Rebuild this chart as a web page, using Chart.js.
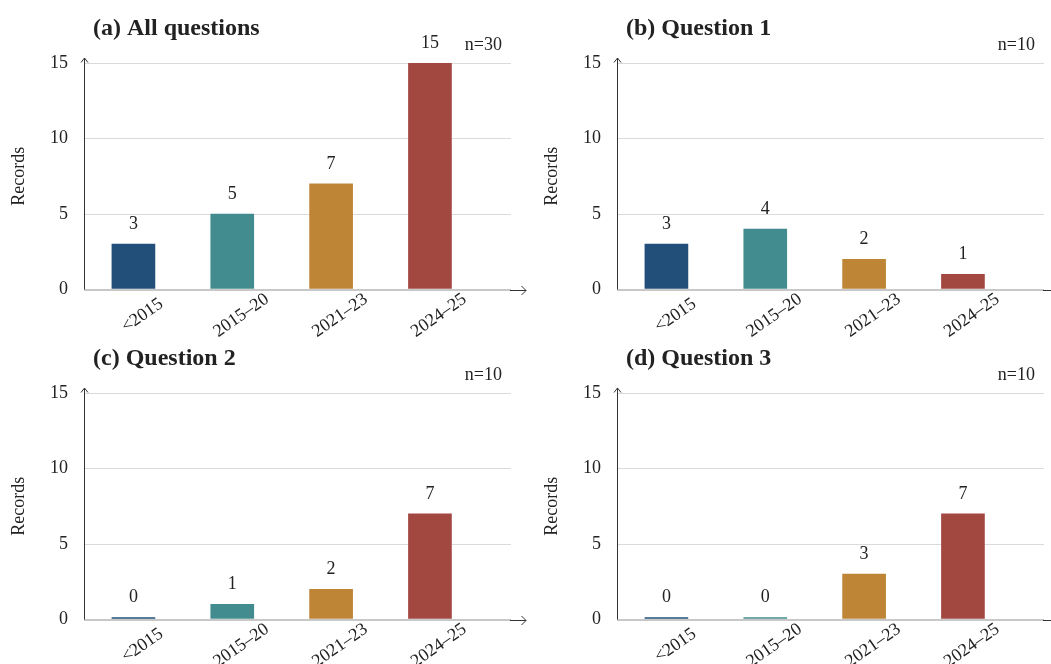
<!DOCTYPE html>
<html>
<head>
<meta charset="utf-8">
<script src="https://cdn.jsdelivr.net/npm/chart.js@4.4.1/dist/chart.umd.min.js"></script>
<style>
  html, body { margin: 0; padding: 0; background: #ffffff; }
  #wrap { position: relative; width: 1051px; height: 664px; overflow: hidden; }
  canvas { position: absolute; }
</style>
</head>
<body>
<div id="wrap">
  <canvas id="pa"></canvas>
  <canvas id="pb"></canvas>
  <canvas id="pc"></canvas>
  <canvas id="pd"></canvas>
</div>
<script>
// Period categories shared by every panel
const categories = ['<2015', '2015–20', '2021–23', '2024–25'];

// Record counts per period
const allQuestions = [3, 5, 7, 15];
const question1 = [3, 4, 2, 1];
const question2 = [0, 1, 2, 7];
const question3 = [0, 0, 3, 7];

// Panel headings and sample sizes
const panelTitles = ['(a) All questions', '(b) Question 1', '(c) Question 2', '(d) Question 3'];
const sampleSizes = [30, 10, 10, 10];

// Y axis ticks
const yTicks = [0, 5, 10, 15];

// One colour per period
const periodColors = ['#214f79', '#428c8f', '#bd8535', '#a24841'];

const SERIF = '"Liberation Serif", "Times New Roman", serif';
const AXIS_LEFT = 84;
const AXIS_RIGHT = 511;
const AXIS_BOTTOM = 289.5;
const AXIS_TOP = 63;

// Titles, n labels, value labels, rotated period labels and axis arrows
const decorPlugin = {
  id: 'decor',
  afterDraw(chart, args, opts) {
    const { ctx, chartArea, scales } = chart;
    const x = scales.x, y = scales.y;
    const y0 = y.getPixelForValue(0);
    const yTop = y.getPixelForValue(yTicks[yTicks.length - 1]);
    ctx.save();

    // y axis with arrow head
    ctx.strokeStyle = '#333';
    ctx.lineWidth = 1;
    const ax = Math.round(chartArea.left) + 0.5;
    ctx.beginPath();
    ctx.moveTo(ax, y0);
    ctx.lineTo(ax, yTop - 5);
    ctx.stroke();
    ctx.beginPath();
    ctx.moveTo(ax - 3.5, yTop - 0.5);
    ctx.lineTo(ax, yTop - 5);
    ctx.lineTo(ax + 3.5, yTop - 0.5);
    ctx.stroke();

    // x axis arrow continuing the baseline
    const xr = chartArea.right - 1;
    const ay = Math.round(y0) + 0.5;
    ctx.beginPath();
    ctx.moveTo(xr, ay);
    ctx.lineTo(xr + 16, ay);
    ctx.stroke();
    ctx.beginPath();
    ctx.moveTo(xr + 11.5, ay - 4.5);
    ctx.lineTo(xr + 16, ay);
    ctx.lineTo(xr + 11.5, ay + 4.5);
    ctx.stroke();

    // value labels above bars
    ctx.fillStyle = '#222';
    ctx.font = '18px ' + SERIF;
    ctx.textAlign = 'center';
    ctx.textBaseline = 'middle';
    const meta = chart.getDatasetMeta(0);
    const values = chart.data.datasets[0].data;
    meta.data.forEach((bar, i) => {
      ctx.fillText(String(values[i].y), bar.x, bar.y - 20);
    });

    // rotated period labels
    categories.forEach((c, i) => {
      const px = x.getPixelForValue(i) + 9;
      const py = y0 + 26;
      ctx.save();
      ctx.translate(px, py);
      ctx.rotate(-35 * Math.PI / 180);
      ctx.textAlign = 'center';
      ctx.textBaseline = 'middle';
      ctx.fillText(c, 0, 0);
      ctx.restore();
    });

    // panel heading
    ctx.font = 'bold 24px ' + SERIF;
    ctx.textAlign = 'left';
    ctx.textBaseline = 'alphabetic';
    ctx.fillText(opts.title, 93, 35);

    // sample size
    ctx.font = '18px ' + SERIF;
    ctx.textAlign = 'right';
    ctx.fillText('n=' + opts.n, 502, 50);

    ctx.restore();
  }
};

function makePanel(id, left, top, width, height, values, idx) {
  const canvas = document.getElementById(id);
  canvas.style.left = left + 'px';
  canvas.style.top = top + 'px';
  canvas.width = width;
  canvas.height = height;
  return new Chart(canvas, {
    type: 'bar',
    data: {
      datasets: [{
        data: values.map((v, i) => ({ x: i, y: v })),
        backgroundColor: periodColors,
        borderWidth: 0,
        barThickness: 43,
        minBarLength: 2
      }]
    },
    plugins: [decorPlugin],
    options: {
      responsive: false,
      animation: false,
      devicePixelRatio: 1,
      layout: {
        padding: { top: AXIS_TOP, left: 0, right: width - AXIS_RIGHT, bottom: height - AXIS_BOTTOM }
      },
      plugins: {
        legend: { display: false },
        tooltip: { enabled: false },
        decor: { title: panelTitles[idx], n: sampleSizes[idx] }
      },
      scales: {
        x: {
          type: 'linear',
          offset: false,
          min: -0.5,
          max: 3.82,
          ticks: { display: false },
          grid: { display: false, offset: false },
          border: { display: false },
          afterFit: s => { s.height = 0; }
        },
        y: {
          min: 0,
          max: 15,
          afterBuildTicks: s => { s.ticks = yTicks.map(v => ({ value: v })); },
          ticks: {
            color: '#222',
            font: { family: SERIF, size: 18 },
            padding: 16
          },
          grid: {
            drawTicks: false,
            color: ctx => ctx.tick && ctx.tick.value === 0 ? '#c8c8c8' : '#dadada',
            lineWidth: ctx => ctx.tick && ctx.tick.value === 0 ? 2 : 1
          },
          border: { display: false },
          title: {
            display: true,
            text: 'Records',
            color: '#222',
            font: { family: SERIF, size: 18 },
            padding: { top: 8, bottom: 0 }
          },
          afterFit: s => { s.width = AXIS_LEFT; }
        }
      }
    }
  });
}

makePanel('pa', 0, 0, 533, 350, allQuestions, 0);
makePanel('pb', 533, 0, 518, 350, question1, 1);
makePanel('pc', 0, 330, 533, 334, question2, 2);
makePanel('pd', 533, 330, 518, 334, question3, 3);
</script>
</body>
</html>
